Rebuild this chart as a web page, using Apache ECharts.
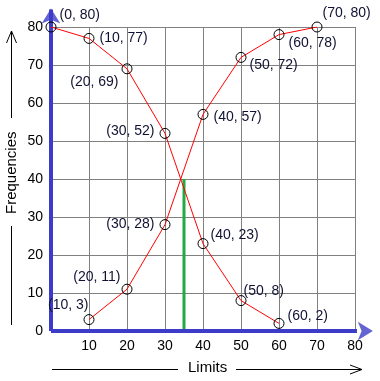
<!DOCTYPE html>
<html><head><meta charset="utf-8">
<script src="https://cdn.jsdelivr.net/npm/echarts@6/dist/echarts.min.js"></script>
<style>html,body{margin:0;padding:0;background:#fff}#c{width:380px;height:381px}</style>
</head><body><div id="c"></div>
<script>
// Data
const lessX = [0, 10, 20, 30, 40, 50, 60];
const lessY = [80, 77, 69, 52, 23, 8, 2];
const moreX = [10, 20, 30, 40, 50, 60, 70];
const moreY = [3, 11, 28, 57, 72, 78, 80];
const medianX = 35;
const medianY = 40;
const xTicks = [10, 20, 30, 40, 50, 60, 70, 80];
const yTicks = [0, 10, 20, 30, 40, 50, 60, 70, 80];

// label placement (style)
const lessLbl = [['right',[-2,-12]],['right',[0,0]],['left',[2,13]],['left',[0,-2]],['right',[-3,-8]],['right',[-8,-9]],['right',[-2,-7]]];
const moreLbl = [['left',[10,-14]],['left',[4,-12]],['left',[0,0]],['right',[0,3]],['right',[-2,8]],['right',[-1,9]],['right',[-5,-14]]];

const font = 'Liberation Sans, Arial, sans-serif';
function mk(xs, ys, pl) {
  return xs.map((x, i) => ({
    value: [x, ys[i]],
    label: { show: true, position: pl[i][0], offset: pl[i][1], formatter: '(' + x + ', ' + ys[i] + ')' }
  }));
}
const chart = echarts.init(document.getElementById('c'), null, {renderer: 'canvas'});
const axisBlue = '#3c3cc8';
chart.setOption({
  animation: false,
  grid: { left: 51, top: 27, right: 25, bottom: 50, containLabel: false },
  xAxis: {
    type: 'value', min: 0, max: 80, interval: 10,
    axisLine: { show: false }, axisTick: { show: false },
    axisLabel: { color: '#000', fontFamily: font, fontSize: 14, margin: 8,
      formatter: v => xTicks.indexOf(v) >= 0 ? String(v) : '' },
    splitLine: { show: true, lineStyle: { color: '#808080', width: 1 } }
  },
  yAxis: {
    type: 'value', min: 0, max: 80, interval: 10,
    axisLine: { show: false }, axisTick: { show: false },
    axisLabel: { color: '#000', fontFamily: font, fontSize: 14, margin: 8,
      formatter: v => yTicks.indexOf(v) >= 0 ? String(v) : '' },
    splitLine: { show: true, lineStyle: { color: '#808080', width: 1 } }
  },
  series: [
    {
      type: 'line', data: [[medianX, 0], [medianX, medianY]], symbol: 'none',
      lineStyle: { color: '#22aa44', width: 3 }, z: 3
    },
    {
      type: 'line', data: [[0, 0], [84.6, 0]], clip: false, z: 4, symbol: 'none',
      lineStyle: { color: axisBlue, width: 4 }, silent: true
    },
    {
      type: 'line', data: [[0, 0], [0, 84.6]], clip: false, z: 4, symbol: 'none',
      lineStyle: { color: axisBlue, width: 4 }, silent: true
    },
    {
      type: 'scatter', clip: false, z: 4, silent: true,
      symbol: 'arrow', symbolSize: [14, 15],
      itemStyle: { color: axisBlue },
      data: [
        { value: [84.7, 0], symbolRotate: -90 },
        { value: [0, 84.9], symbolRotate: 0 }
      ]
    },
    {
      type: 'line', data: mk(lessX, lessY, lessLbl), z: 5,
      symbol: 'circle', symbolSize: 10, showAllSymbol: true,
      itemStyle: { color: 'rgba(0,0,0,0)', borderColor: '#000', borderWidth: 1 },
      lineStyle: { color: '#ff0000', width: 1 },
      label: { color: '#111133', fontFamily: font, fontSize: 14 }
    },
    {
      type: 'line', data: mk(moreX, moreY, moreLbl), z: 5,
      symbol: 'circle', symbolSize: 10, showAllSymbol: true,
      itemStyle: { color: 'rgba(0,0,0,0)', borderColor: '#000', borderWidth: 1 },
      lineStyle: { color: '#ff0000', width: 1 },
      label: { color: '#111133', fontFamily: font, fontSize: 14 }
    }
  ],
  graphic: [
    { type: 'text', left: 188, top: 360, style: { text: 'Limits', font: '15px ' + font, fill: '#000' } },
    { type: 'line', shape: { x1: 52, y1: 369.5, x2: 178, y2: 369.5 }, style: { stroke: '#000', lineWidth: 1 } },
    { type: 'line', shape: { x1: 236, y1: 369.5, x2: 362, y2: 369.5 }, style: { stroke: '#000', lineWidth: 1 } },
    { type: 'polyline', shape: { points: [[350, 365], [362, 369.5], [350, 374]] }, style: { stroke: '#000', lineWidth: 1, fill: null } },
    { type: 'text', x: 4, y: 214, rotation: Math.PI / 2, style: { text: 'Frequencies', font: '15px ' + font, fill: '#000' } },
    { type: 'line', shape: { x1: 11.5, y1: 31, x2: 11.5, y2: 118 }, style: { stroke: '#000', lineWidth: 1 } },
    { type: 'polyline', shape: { points: [[6.5, 43], [11.5, 31], [16.5, 43]] }, style: { stroke: '#000', lineWidth: 1, fill: null } },
    { type: 'line', shape: { x1: 11.5, y1: 226, x2: 11.5, y2: 325 }, style: { stroke: '#000', lineWidth: 1 } }
  ]
});
</script></body></html>
